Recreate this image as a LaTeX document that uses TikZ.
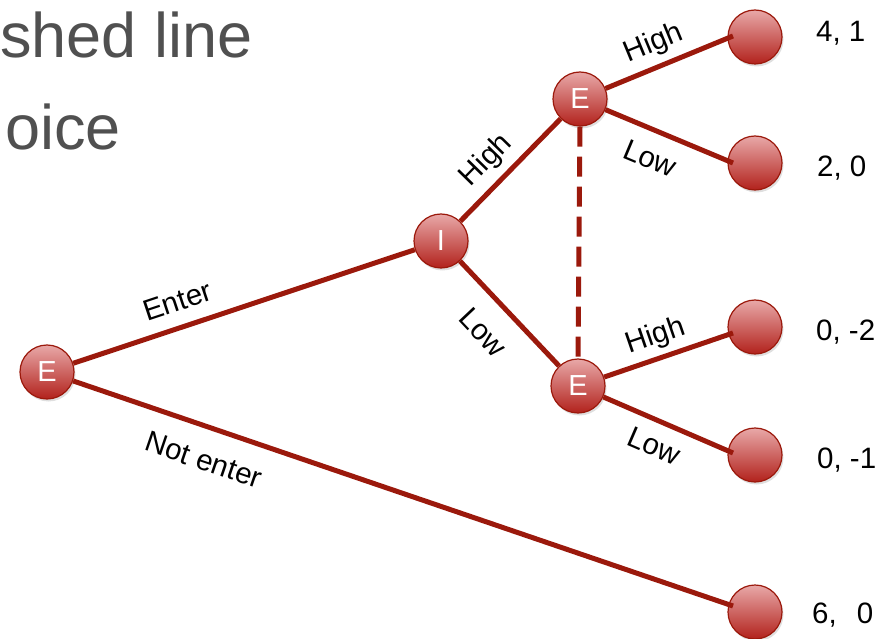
\documentclass[tikz,border=0pt]{standalone}
\usepackage{fontspec}
\setmainfont{Liberation Sans}
\usetikzlibrary{shadows}
\definecolor{edgered}{RGB}{155,25,12}
\definecolor{balltop}{RGB}{232,168,168}
\definecolor{ballbot}{RGB}{178,34,28}
\definecolor{slidegray}{RGB}{80,80,80}
\begin{document}
\begin{tikzpicture}[x=1pt,y=-1pt,
  ball/.style={circle, minimum size=54pt, inner sep=0pt, draw=edgered, line width=1.2pt,
    top color=balltop, bottom color=ballbot, text=white, font=\fontsize{29}{29}\selectfont,
    drop shadow={opacity=0.25, shadow xshift=1.5pt, shadow yshift=-2.5pt}},
  branch/.style={draw=edgered, line width=5pt},
  info/.style={draw=edgered, line width=5pt, dash pattern=on 20pt off 10pt},
  lab/.style={font=\fontsize{29.5}{29.5}\selectfont, sloped, inner sep=0pt, anchor=mid},
  pay/.style={font=\fontsize{29.5}{29.5}\selectfont, anchor=base west, inner sep=0pt},
  slide/.style={font=\fontsize{63}{63}\selectfont, text=slidegray, anchor=base west, inner sep=0pt}
]
\useasboundingbox (0,0) rectangle (889,639);
\node[slide] (s1) at (0,58) {shed line};
\node[slide] (s2) at (5,150) {oice};

\node[ball] (root) at (47,372) {E};
\node[ball] (inv) at (441,241) {I};
\node[ball] (etop) at (580,99) {E};
\node[ball] (ebot) at (578,386) {E};
\node[ball] (t1) at (755,37) {};
\node[ball] (t2) at (755,163) {};
\node[ball] (t3) at (755,327) {};
\node[ball] (t4) at (755,455) {};
\node[ball] (t5) at (755,612) {};

\coordinate (t1e) at (733,36);
\coordinate (t2e) at (733,163);
\coordinate (t3e) at (733,333);
\coordinate (t4e) at (733,453);
\coordinate (t5e) at (733,606);

\draw[branch] (root) -- node[lab, pos=0.33, yshift=19pt] {Enter} (inv);
\draw[branch] (root) -- node[lab, pos=0.214, yshift=-40pt] {Not enter} (t5e);
\draw[branch] (inv) -- node[lab, pos=0.43, yshift=18.5pt] {High} (etop);
\draw[branch] (inv) -- node[lab, pos=0.47, yshift=-39.5pt] {Low} (ebot);
\draw[branch] (etop) -- node[lab, pos=0.445, yshift=18pt] {High} (t1e);
\draw[branch] (etop) -- node[lab, pos=0.433, yshift=-35pt] {Low} (t2e);
\draw[branch] (ebot) -- node[lab, pos=0.453, yshift=17pt] {High} (t3e);
\draw[branch] (ebot) -- node[lab, pos=0.467, yshift=-32pt] {Low} (t4e);
\draw[info] (etop.south) -- (ebot.north);

\node[pay] (p1) at (816,42) {4, 1};
\node[pay] (p2) at (817,177) {2, 0};
\node[pay] (p3) at (816,340) {0, -2};
\node[pay] (p4) at (817,468) {0, -1};
\node[pay] (p5) at (812,623) {6,\hspace{20pt}0};
\end{tikzpicture}
\end{document}
